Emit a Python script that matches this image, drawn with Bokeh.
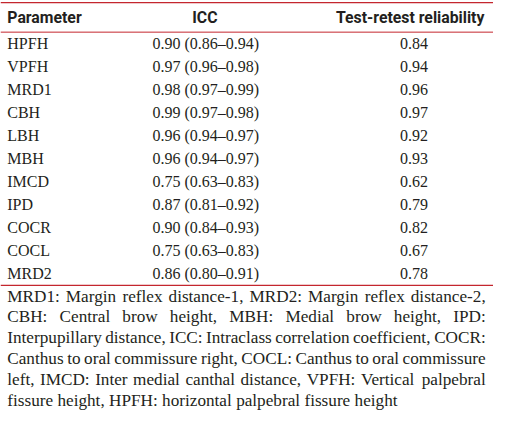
from bokeh.plotting import figure
from bokeh.models import Range1d, ColumnDataSource
from bokeh.embed import file_html
from bokeh.resources import INLINE
from bokeh.core.properties import value

# ---------------- data ----------------
parameters = ["HPFH", "VPFH", "MRD1", "CBH", "LBH", "MBH", "IMCD", "IPD", "COCR", "COCL", "MRD2"]
icc = [0.90, 0.97, 0.98, 0.99, 0.96, 0.96, 0.75, 0.87, 0.90, 0.75, 0.86]
icc_low = [0.86, 0.96, 0.97, 0.97, 0.94, 0.94, 0.63, 0.81, 0.84, 0.63, 0.80]
icc_high = [0.94, 0.98, 0.99, 0.98, 0.97, 0.97, 0.83, 0.92, 0.93, 0.83, 0.91]
retest = [0.84, 0.94, 0.96, 0.97, 0.92, 0.93, 0.62, 0.79, 0.82, 0.67, 0.78]
headers = ["Parameter", "ICC", "Test-retest reliability"]
footnote_lines = [
    "MRD1: Margin reflex distance-1, MRD2: Margin reflex distance-2,",
    "CBH: Central brow height, MBH: Medial brow height, IPD:",
    "Interpupillary distance, ICC: Intraclass correlation coefficient, COCR:",
    "Canthus to oral commissure right, COCL: Canthus to oral commissure",
    "left, IMCD: Inter medial canthal distance, VPFH: Vertical palpebral",
    "fissure height, HPFH: horizontal palpebral fissure height",
]

# ---------------- layout ----------------
W, H = 493, 410
XR = (0, 509)
YR = (433, -1)
sx = W / (XR[1] - XR[0])

TEXT = "#231f20"
RULE = "#c4262e"
SERIF = "Liberation Serif"
HEAD = "Roboto"

p = figure(width=W, height=H, x_range=Range1d(*XR), y_range=Range1d(*YR),
           output_backend="svg", toolbar_location=None, min_border=0,
           background_fill_color="white", border_fill_color="white")
p.axis.visible = False
p.grid.visible = False
p.outline_line_color = None

# rules
p.segment(x0=[0, 0, 0], y0=[1.2, 32.5, 300.5], x1=[509, 509, 509], y1=[1.2, 32.5, 300.5],
          line_color=RULE, line_width=[1.4, 1.0, 1.4])

# header
col_x = [7, 211, 423]
aligns = ["left", "center", "center"]
for h, x, a in zip(headers, col_x, aligns):
    p.text(x=[x], y=[17], text=[h], text_font=value(HEAD), text_font_style="bold",
           text_font_size="15.8px", text_align=a, text_baseline="middle", text_color=TEXT)

# rows
row_y = [44.5 + 24.35 * i for i in range(len(parameters))]
icc_txt = ["%.2f (%.2f\u2013%.2f)" % (a, b, c) for a, b, c in zip(icc, icc_low, icc_high)]
ret_txt = ["%.2f" % r for r in retest]
src = ColumnDataSource(dict(y=row_y, par=parameters, icc=icc_txt, ret=ret_txt,
                            x0=[7] * len(row_y), x1=[212] * len(row_y), x2=[427] * len(row_y)))
common = dict(text_font=value(SERIF), text_font_size="16px", text_baseline="middle", text_color=TEXT)
p.text(x="x0", y="y", text="par", source=src, text_align="left", **common)
p.text(x="x1", y="y", text="icc", source=src, text_align="center", **common)
p.text(x="x2", y="y", text="ret", source=src, text_align="center", **common)

# footnote, justified with Times metrics
tw = {' ': 250, ',': 250, '-': 333, ':': 278, '.': 250, '(': 333, ')': 333}
for d in "0123456789":
    tw[d] = 500
upper = dict(A=722, B=667, C=667, D=722, E=611, F=556, G=722, H=722, I=333, J=389, K=722, L=611,
             M=889, N=722, O=722, P=556, Q=722, R=667, S=556, T=611, U=722, V=722, W=944, X=722,
             Y=722, Z=611)
lower = dict(a=444, b=500, c=444, d=500, e=444, f=333, g=500, h=500, i=278, j=278, k=500, l=278,
             m=778, n=500, o=500, p=500, q=500, r=333, s=389, t=278, u=500, v=500, w=722, x=500,
             y=500, z=444)
tw.update(upper)
tw.update(lower)
FN_PX = 17.2


def wwidth(s):
    return sum(tw.get(ch, 500) for ch in s) / 1000.0 * FN_PX / sx


left, right = 7, 501
fx, fy, ft = [], [], []
for i, line in enumerate(footnote_lines):
    y = 312 + 22 * i
    words = line.split(" ")
    widths = [wwidth(w) for w in words]
    if i < len(footnote_lines) - 1:
        gap = (right - left - sum(widths)) / (len(words) - 1)
    else:
        gap = wwidth(" ")
    x = left
    for w, wd in zip(words, widths):
        fx.append(x)
        fy.append(y)
        ft.append(w)
        x += wd + gap
p.text(x=fx, y=fy, text=ft, text_font=value(SERIF), text_font_size="%.1fpx" % FN_PX,
       text_align="left", text_baseline="middle", text_color=TEXT)

open("out.html", "w").write(file_html(p, INLINE))
